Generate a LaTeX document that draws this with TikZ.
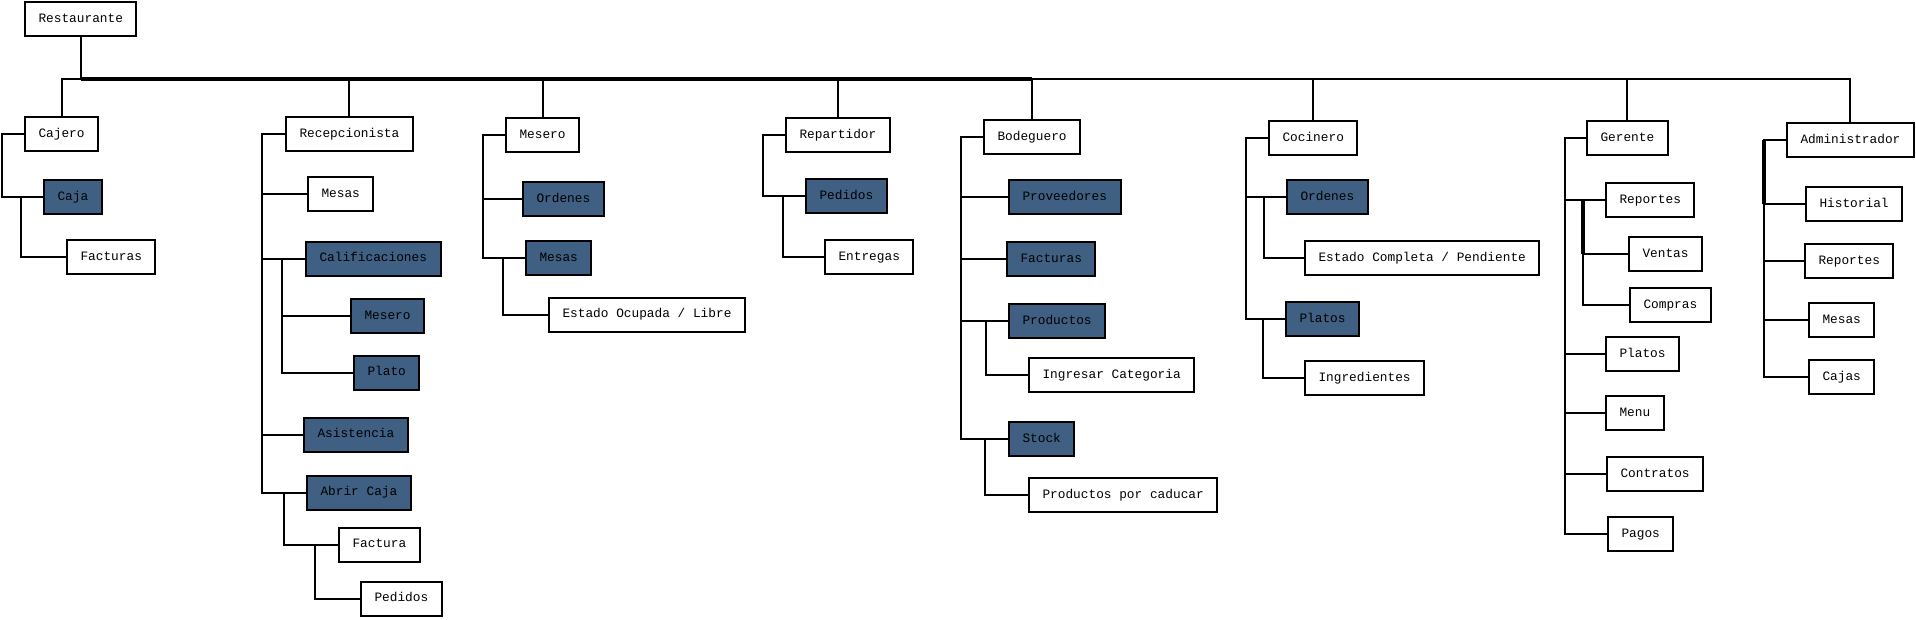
\documentclass[tikz,border=0pt]{standalone}
\usepackage{fontspec}
\setmonofont{Liberation Mono}
\definecolor{azulcaja}{RGB}{63,96,131}

\begin{document}
\begin{tikzpicture}[x=1pt,y=-1pt,
    modulo/.style={draw,line width=2pt,anchor=west,inner xsep=13.5pt,inner ysep=0pt,
        minimum height=34pt,text height=8pt,text depth=2pt,
        font=\ttfamily\fontsize{12.8}{14}\selectfont},
    tabla/.style={modulo,fill=azulcaja},
    rama/.style={line width=2pt},
    grueso/.style={line width=3.5pt}]
    \useasboundingbox (0,0) rectangle (1916,619);

    \node[modulo](rest)at(24,19){Restaurante};
    \coordinate(bus)at(rest.south|-0,79);

    \node[modulo](cajero)at(24,134){Cajero};
    \node[tabla](caja)at(43,197){Caja};
    \node[modulo](facturasC)at(66,257){Facturas};

    \node[modulo](recep)at(285,134){Recepcionista};
    \node[modulo](mesasR)at(307,194){Mesas};
    \node[tabla](calif)at(305,258.5){Calificaciones};
    \node[tabla](meseroR)at(350,316){Mesero};
    \node[tabla](plato)at(353,372.5){Plato};
    \node[tabla](asist)at(303,434.5){Asistencia};
    \node[tabla](abrir)at(306,492.5){Abrir Caja};
    \node[modulo](factura)at(338,544.5){Factura};
    \node[modulo](pedidosR)at(360,598.5){Pedidos};

    \node[modulo](mesero)at(505,135){Mesero};
    \node[tabla](ordenesM)at(522,199){Ordenes};
    \node[tabla](mesasM)at(525,258){Mesas};
    \node[modulo](ocupada)at(548,314.5){Estado Ocupada / Libre};

    \node[modulo](repart)at(785,135){Repartidor};
    \node[tabla](pedidosP)at(805,196){Pedidos};
    \node[modulo](entregas)at(824,257){Entregas};

    \node[modulo](bodeg)at(983,137){Bodeguero};
    \node[tabla](provee)at(1008,197){Proveedores};
    \node[tabla](facturasB)at(1006,259){Facturas};
    \node[tabla](product)at(1008,321){Productos};
    \node[modulo](categ)at(1028,375){Ingresar Categoria};
    \node[tabla](stock)at(1008,439){Stock};
    \node[modulo](caducar)at(1028,495){Productos por caducar};

    \node[modulo](cocin)at(1268,138){Cocinero};
    \node[tabla](ordenesC)at(1286,197){Ordenes};
    \node[modulo](completa)at(1304,258){Estado Completa / Pendiente};
    \node[tabla](platosC)at(1285,319){Platos};
    \node[modulo](ingred)at(1304,378){Ingredientes};

    \node[modulo](geren)at(1586,138){Gerente};
    \node[modulo](reportesG)at(1605,200){Reportes};
    \node[modulo](ventas)at(1628,254){Ventas};
    \node[modulo](compras)at(1629,305){Compras};
    \node[modulo](platosG)at(1605,354){Platos};
    \node[modulo](menu)at(1605,413){Menu};
    \node[modulo](contratos)at(1606,474){Contratos};
    \node[modulo](pagos)at(1607,534){Pagos};

    \node[modulo](admin)at(1786,140){Administrador};
    \node[modulo](historial)at(1805,204){Historial};
    \node[modulo](reportesA)at(1804,261){Reportes};
    \node[modulo](mesasA)at(1808,320){Mesas};
    \node[modulo](cajas)at(1808,377){Cajas};

    % bus principal
    \draw[rama](rest.south)--(bus);
    \foreach \r in {cajero,recep,mesero,repart,bodeg,cocin,geren,admin}
        \draw[rama](bus)-|(\r.north);
    \draw[grueso](bus)--(bus-|bodeg.north);

    % ramas
    \draw[rama](cajero.west)--++(-22.5,0)|-(caja.west);
    \draw[rama]([xshift=-22pt]caja.west)|-(facturasC.west);

    \foreach \h in {mesasR,calif,asist,abrir}
        \draw[rama](recep.west)--++(-23,0)|-(\h.west);
    \foreach \h in {meseroR,plato}
        \draw[rama]([xshift=-23pt]calif.west)|-(\h.west);
    \draw[rama]([xshift=-22pt]abrir.west)|-(factura.west);
    \draw[rama]([xshift=-23pt]factura.west)|-(pedidosR.west);

    \foreach \h in {ordenesM,mesasM}
        \draw[rama](mesero.west)--++(-22,0)|-(\h.west);
    \draw[rama]([xshift=-22pt]mesasM.west)|-(ocupada.west);

    \draw[rama](repart.west)--++(-22,0)|-(pedidosP.west);
    \draw[rama]([xshift=-22pt]pedidosP.west)|-(entregas.west);

    \foreach \h in {provee,facturasB,product,stock}
        \draw[rama](bodeg.west)--++(-22,0)|-(\h.west);
    \draw[rama]([xshift=-22pt]product.west)|-(categ.west);
    \draw[rama]([xshift=-23pt]stock.west)|-(caducar.west);

    \foreach \h in {ordenesC,platosC}
        \draw[rama](cocin.west)--++(-22,0)|-(\h.west);
    \draw[rama]([xshift=-22pt]ordenesC.west)|-(completa.west);
    \draw[rama]([xshift=-22pt]platosC.west)|-(ingred.west);

    \foreach \h in {reportesG,platosG,menu,contratos,pagos}
        \draw[rama](geren.west)--++(-21.5,0)|-(\h.west);
    \foreach \h in {ventas,compras}
        \draw[rama]([xshift=-22pt]reportesG.west)|-(\h.west);
    \draw[grueso]([xshift=-22pt]reportesG.west)--([xshift=-22pt]reportesG.west|-ventas.west);

    \foreach \h in {historial,reportesA,mesasA,cajas}
        \draw[rama](admin.west)--++(-22,0)|-(\h.west);
    \draw[grueso]([xshift=-22pt]admin.west)--([xshift=-22pt]admin.west|-historial.west);
\end{tikzpicture}
\end{document}
